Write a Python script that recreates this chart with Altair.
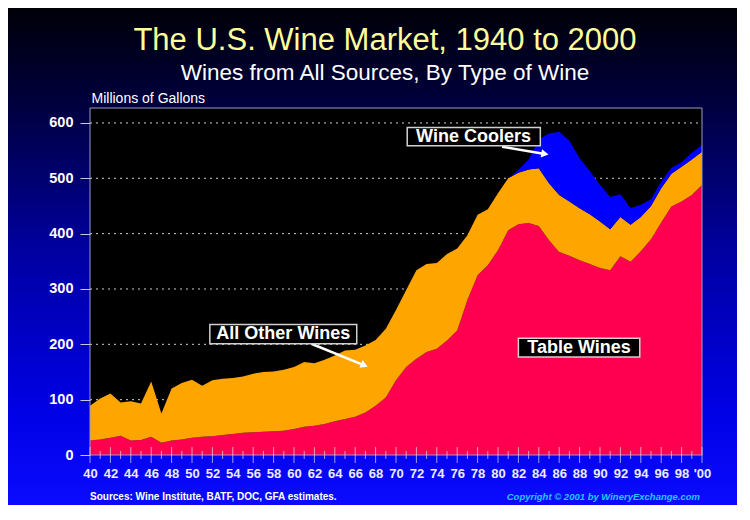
import json
import math
import altair as alt
import pandas as pd

# ---------------- data ----------------
years = list(range(1940, 2001))
table_wines = [26, 28, 31, 35, 26, 27, 33, 22, 26, 28,
               31, 33, 34, 36, 38, 40, 41, 42, 43, 44,
               47, 51, 53, 56, 61, 65, 69, 77, 89, 104,
               135, 159, 174, 186, 192, 207, 225, 280, 325, 343,
               370, 406, 417, 419, 414, 388, 367, 360, 352, 345,
               338, 334, 359, 349, 368, 390, 420, 449, 458, 470,
               488]
all_other_wines = [63, 74, 80, 60, 71, 66, 100, 53, 94, 102,
                   105, 92, 101, 102, 101, 102, 106, 108, 108, 110,
                   112, 117, 113, 116, 119, 124, 121, 121, 119, 124,
                   127, 139, 160, 159, 155, 156, 148, 117, 109, 101,
                   103, 94, 93, 97, 104, 103, 103, 98, 94, 90,
                   84, 74, 71, 67, 62, 60, 62, 59, 63, 64,
                   60]
wine_coolers = [0] * 42 + [5, 18, 52, 90, 114, 110, 90, 78, 66, 58,
                           41, 30, 22, 12, 12, 11, 8, 12, 12]

y_ticks = [0, 100, 200, 300, 400, 500, 600]
x_label_years = list(range(1940, 2001, 2))
x_tick_labels = ["40", "42", "44", "46", "48", "50", "52", "54", "56", "58",
                 "60", "62", "64", "66", "68", "70", "72", "74", "76", "78",
                 "80", "82", "84", "86", "88", "90", "92", "94", "96", "98", "'00"]

ann_labels = ["Wine Coolers", "All Other Wines", "Table Wines"]
ann_x = [1977.6, 1958.95, 1987.95]
ann_y = [575.5, 218.5, 194.0]
ann_x0 = [1971.1, 1951.75, 1982.0]
ann_x1 = [1984.15, 1966.15, 1993.9]
ann_y0 = [559.0, 201.0, 177.0]
ann_y1 = [591.7, 236.0, 211.0]

arrow_x0 = [1980.4, 1961.7]
arrow_y0 = [557.0, 201.0]
arrow_x1 = [1984.6, 1966.9]
arrow_y1 = [544.0, 162.0]

title_text = "The U.S. Wine Market, 1940 to 2000"
subtitle_text = "Wines from All Sources, By Type of Wine"
y_title = "Millions of Gallons"
source_text = "Sources: Wine Institute, BATF, DOC, GFA estimates."
copyright_text = "Copyright © 2001 by WineryExchange.com"

# ---------------- layout ----------------
W, H = 612, 347
PAD_L, PAD_T, PAD_R, PAD_B = 82, 100, 35, 50
Y_MAX = 627
X_MIN, X_MAX = 1940, 2000
FONT = "Liberation Sans"

df = pd.DataFrame({"year": years, "table": table_wines,
                   "other": all_other_wines, "coolers": wine_coolers})
df["zero"] = 0
df["table_top"] = df["table"]
df["other_top"] = df["table_top"] + df["other"]
df["cooler_top"] = df["other_top"] + df["coolers"]

ticks_df = pd.DataFrame({"year": years})
ticks_df["y"] = 0
ticks_df["tsize"] = [16 if (y % 2 == 0) else 8 for y in years]

grid_df = pd.DataFrame({"v": [v for v in y_ticks if v > 0]})

ann_df = pd.DataFrame({"label": ann_labels, "x": ann_x, "y": ann_y,
                       "x0": ann_x0, "x1": ann_x1, "y0": ann_y0, "y1": ann_y1})

px_per_year = W / (X_MAX - X_MIN)
px_per_unit = H / Y_MAX
arr_df = pd.DataFrame({"x0": arrow_x0, "y0": arrow_y0, "x1": arrow_x1, "y1": arrow_y1})
arr_df["angle"] = [
    (math.degrees(math.atan2((a - b) * px_per_unit, (d - c) * px_per_year)) + 360) % 360
    for a, b, c, d in zip(arr_df["y0"], arr_df["y1"], arr_df["x0"], arr_df["x1"])
]

xs = alt.Scale(domain=[X_MIN, X_MAX], nice=False, zero=False)
ys = alt.Scale(domain=[0, Y_MAX], nice=False)

label_expr = json.dumps(x_tick_labels) + "[round((datum.value - 1940) / 2)]"

x_axis = alt.Axis(values=x_label_years, labelExpr=label_expr, ticks=False, domain=False,
                  grid=False, labelColor="#ececff", labelFont=FONT, labelFontWeight="bold",
                  labelFontSize=13, labelPadding=12, title=None, zindex=1,
                  labelFlush=False, labelOverlap=False, labelBound=False)
y_axis = alt.Axis(values=y_ticks, tickSize=10, tickColor="#c8c8dc", domain=False, grid=False,
                  labelColor="white", labelFont=FONT, labelFontWeight="bold", labelFontSize=14.5,
                  labelPadding=7, title=y_title, titleAngle=0, titleX=1, titleY=-10,
                  titleAlign="left", titleBaseline="middle", titleColor="white",
                  titleFont=FONT, titleFontWeight="normal", titleFontSize=14, zindex=1,
                  labelOverlap=False)


def X(field):
    return alt.X(field, type="quantitative", scale=xs, axis=x_axis)


def Y(field):
    return alt.Y(field, type="quantitative", scale=ys, axis=y_axis)


one = alt.Data(values=[{}])

bg = alt.Chart(one).mark_rect(
    fill=alt.LinearGradient(
        gradient="linear", x1=0, x2=0, y1=0, y2=1,
        stops=[alt.GradientStop(offset=0, color="#000008"),
               alt.GradientStop(offset=0.2, color="#000040"),
               alt.GradientStop(offset=0.5, color="#0000a4"),
               alt.GradientStop(offset=0.8, color="#0000e4"),
               alt.GradientStop(offset=1, color="#0a0aff")])
).encode(x=alt.value(-PAD_L), x2=alt.value(W + PAD_R),
         y=alt.value(-PAD_T), y2=alt.value(H + PAD_B))

plot_bg = alt.Chart(one).mark_rect(fill="black").encode(
    x=alt.value(0), x2=alt.value(W), y=alt.value(0), y2=alt.value(H))

grid = alt.Chart(grid_df).mark_rule(color="#cfcfcf", strokeDash=[2, 4], strokeWidth=1).encode(
    y=Y("v"), x=alt.value(0), x2=alt.value(W))

base = alt.Chart(df)
area_table = base.mark_area(color="#ff0050", opacity=1).encode(
    x=X("year"), y=Y("table_top"), y2="zero:Q")
area_other = base.mark_area(color="#ffa500", opacity=1).encode(
    x=X("year"), y=Y("other_top"), y2="table_top:Q")
area_cool = base.mark_area(color="#0000ff", opacity=1).encode(
    x=X("year"), y=Y("cooler_top"), y2="other_top:Q")

frame = alt.Chart(one).mark_rect(fillOpacity=0, stroke="#9a9ac4", strokeWidth=1).encode(
    x=alt.value(0), x2=alt.value(W), y=alt.value(0), y2=alt.value(H))

xticks = alt.Chart(ticks_df).mark_tick(orient="vertical", color="#dcdcf0", thickness=1).encode(
    x=X("year"), y=Y("y"),
    size=alt.Size("tsize:Q", scale=None, legend=None))

boxes = alt.Chart(ann_df).mark_rect(fill="black", stroke="#d0d0d0", strokeWidth=1.5).encode(
    x=X("x0"), x2="x1:Q", y=Y("y0"), y2="y1:Q")
labels = alt.Chart(ann_df).mark_text(color="white", font=FONT, fontWeight="bold", fontSize=18,
                                     align="center", baseline="middle").encode(
    x=X("x"), y=Y("y"), text="label:N")

arrows = alt.Chart(arr_df).mark_rule(color="white", strokeWidth=2.5).encode(
    x=X("x0"), x2="x1:Q", y=Y("y0"), y2="y1:Q")
heads = alt.Chart(arr_df).mark_point(shape="triangle-right", filled=True, color="white",
                                     size=70, opacity=1).encode(
    x=X("x1"), y=Y("y1"),
    angle=alt.Angle("angle:Q", scale=None))

title_mark = alt.Chart(one).mark_text(text=title_text, color="#ffff99", font=FONT, fontSize=31,
                                      align="center", baseline="middle").encode(
    x=alt.value(295), y=alt.value(-67))
subtitle_mark = alt.Chart(one).mark_text(text=subtitle_text, color="white", font=FONT,
                                         fontSize=22.5, align="center", baseline="middle").encode(
    x=alt.value(295), y=alt.value(-35))

src = alt.Chart(one).mark_text(text=source_text, color="white", font=FONT, fontSize=10,
                               fontWeight="bold", align="left", baseline="middle").encode(
    x=alt.value(0), y=alt.value(389))
cpy = alt.Chart(one).mark_text(text=copyright_text, color="#22c8ff", font=FONT, fontSize=9.5,
                               fontWeight="bold", fontStyle="italic", align="right",
                               baseline="middle").encode(
    x=alt.value(W - 2), y=alt.value(389))

chart = alt.layer(
    bg, plot_bg, grid, area_table, area_other, area_cool, frame, xticks,
    arrows, heads, boxes, labels, title_mark, subtitle_mark, src, cpy
).properties(
    width=W, height=H,
    padding={"left": PAD_L, "top": PAD_T, "right": PAD_R, "bottom": PAD_B},
    autosize=alt.AutoSizeParams(type="none"),
    background="#000010",
).configure_view(stroke=None)

chart.save("out.html", embed_options={"renderer": "svg", "actions": False})
